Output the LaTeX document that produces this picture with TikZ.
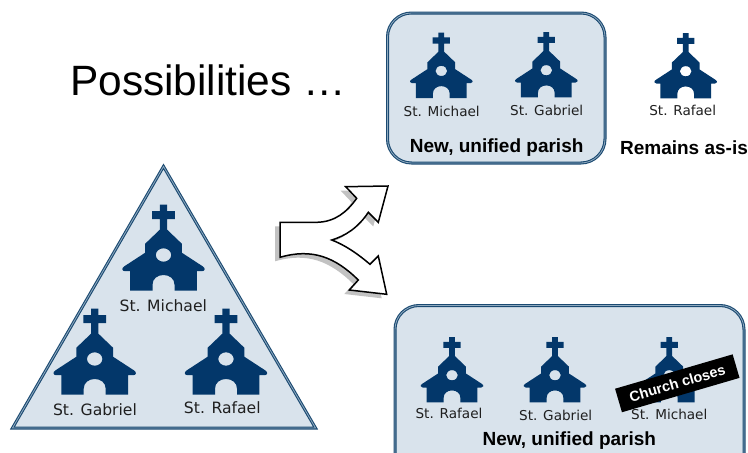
\documentclass[tikz,border=0pt]{standalone}
\usepackage{fontspec}
\setmainfont{Liberation Sans}
\newfontfamily\lblfont{DejaVu Sans}
\definecolor{navy}{HTML}{03376A}
\definecolor{edgeblue}{HTML}{1B4A72}
\definecolor{innerblue}{HTML}{8FAABF}
\definecolor{panel}{HTML}{D9E3EC}
\newcommand{\forkpath}{(280,222.3) -- (316.7,222.3) .. controls (335,222) and (347,212) .. (356.7,198.3) -- (345.7,186.7) -- (388,186) -- (378.3,222.3) -- (368.3,212.3) .. controls (358,228) and (345,236) .. (331.7,240) .. controls (345,245) and (358,254) .. (370,264.3) -- (378.3,256) -- (386.7,294.3) -- (349.3,290) -- (358.3,280) .. controls (335,257) and (312,248) .. (280,257.3) -- cycle}
\tikzset{
  panelshape/.style={draw=edgeblue, double=innerblue, line width=1.1pt, double distance=.8pt, fill=panel},
  parishbox/.style={panelshape, rounded corners=24pt},
  chlabel/.style={font=\lblfont\fontsize{#1}{#1}\selectfont, text=black!88, inner sep=0pt},
  chlabel/.default=13.6,
  boldlabel/.style={font=\bfseries\fontsize{19}{19}\selectfont, text=black, inner sep=0pt},
  pics/church/.style={code={
    \fill[navy, even odd rule]
      (-3.7,0) -- (3.7,0) -- (3.7,6.3) -- (11.3,6.3) -- (11.3,14.3) -- (3.7,14.3) -- (3.7,25)
      -- (18.3,39) -- (18.3,48) -- (39,61.5) .. controls (42.5,63.5) and (41.5,66.5) .. (38.5,66.5)
      -- (33.3,66.5) -- (33.3,86) -- (11,86) -- (11,80)
      .. controls (11,74) and (6,70.3) .. (0,70.3) .. controls (-6,70.3) and (-11,74) .. (-11,80)
      -- (-11,86) -- (-33.3,86) -- (-33.3,66.5) -- (-38.5,66.5)
      .. controls (-41.5,66.5) and (-42.5,63.5) .. (-39,61.5) -- (-18.3,48) -- (-18.3,39)
      -- (-3.7,25) -- (-3.7,14.3) -- (-11.3,14.3) -- (-11.3,6.3) -- (-3.7,6.3) -- cycle
      (0,50.3) ellipse [x radius=7.7, y radius=6.7];
  }}
}
\begin{document}
\begin{tikzpicture}[x=1pt,y=-1pt]
\useasboundingbox (0,0) rectangle (748,453);
% title
\node[anchor=base west, inner sep=0pt, font=\fontsize{42.4}{42.4}\selectfont] (title) at (70,95) {Possibilities …};
% left triangle
\draw[panelshape, line join=miter] (163.5,166.5) -- (315.5,428) -- (12.5,428) -- cycle;
\pic[scale=1] (c1) at (163.5,204.7) {church};
\pic[scale=1] (c2) at (94.7,308.7) {church};
\pic[scale=1] (c3) at (226,308.7) {church};
\node[chlabel=15.6] (l1) at (163.3,305.7) {St. Michael};
\node[chlabel=15.6] (l2) at (95,410) {St. Gabriel};
\node[chlabel=15.6] (l3) at (222.3,408) {St. Rafael};
% fork arrow
\fill[black!24, xshift=-5pt, yshift=-4pt] \forkpath;
\draw[black, fill=white, line width=1.5pt, line join=miter] \forkpath;
% top box
\draw[parishbox] (387.5,13) rectangle (605,163);
\pic[scale=.76] (t1) at (441.3,32.7) {church};
\pic[scale=.76] (t2) at (546.3,32) {church};
\pic[scale=.76] (t3) at (685.7,33) {church};
\node[chlabel] (tl1) at (441.7,111) {St. Michael};
\node[chlabel] (tl2) at (546.7,110) {St. Gabriel};
\node[chlabel] (tl3) at (682.7,110) {St. Rafael};
\node[boldlabel] (tb1) at (496.7,147.5) {New, unified parish};
\node[boldlabel] (tb2) at (684,147.5) {Remains as-is};
% bottom box
\draw[parishbox] (395,305.5) rectangle (744,480);
\pic[scale=.76] (b1) at (452,337) {church};
\pic[scale=.76] (b2) at (555,337) {church};
\pic[scale=.76] (b3) at (669.3,337) {church};
\node[chlabel] (bl1) at (449,413) {St. Rafael};
\node[chlabel] (bl2) at (555.7,415) {St. Gabriel};
\node[chlabel] (bl3) at (669.3,414) {St. Michael};
\node[boldlabel] (bb) at (569.3,440.5) {New, unified parish};
\node[fill=black, text=white, rotate=16.3, minimum width=122.5pt, minimum height=24.5pt, inner sep=0pt, font=\bfseries\fontsize{14.4}{14.4}\selectfont] (closes) at (677.3,383.3) {Church closes};
\end{tikzpicture}
\end{document}
